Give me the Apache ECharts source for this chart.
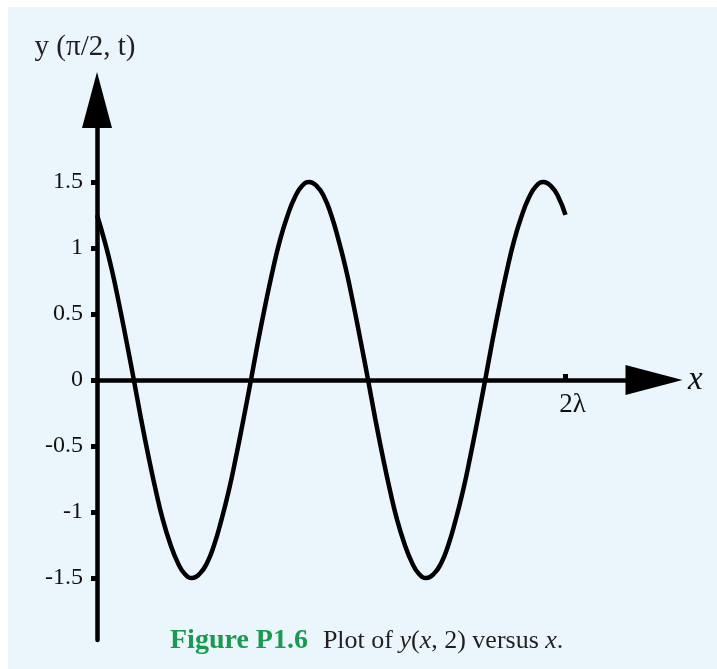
<!DOCTYPE html>
<html>
<head>
<meta charset="utf-8">
<script src="https://cdn.jsdelivr.net/npm/echarts@6/dist/echarts.min.js"></script>
<style>
html,body{margin:0;padding:0;background:#fff;}
#chart_container{width:717px;height:669px;}
</style>
</head>
<body>
<div id="chart_container"></div>
<script>
var xValues = [];
for (var i = 0; i <= 64; i++) { xValues.push(i / 32); }
var yValues = [
  1.25, 1.06, 0.84, 0.58, 0.30, 0.01, -0.29, -0.57, -0.83, -1.06, -1.24, -1.38, -1.47, -1.50, -1.47, -1.39,
  -1.25, -1.06, -0.84, -0.58, -0.30, -0.01, 0.29, 0.57, 0.83, 1.06, 1.24, 1.38, 1.47, 1.50, 1.47, 1.39,
  1.25, 1.06, 0.84, 0.58, 0.30, 0.01, -0.29, -0.57, -0.83, -1.06, -1.24, -1.38, -1.47, -1.50, -1.47, -1.39,
  -1.25, -1.06, -0.84, -0.58, -0.30, -0.01, 0.29, 0.57, 0.83, 1.06, 1.24, 1.38, 1.47, 1.50, 1.47, 1.39,
  1.25
];
var yTicks = [-1.5, -1, -0.5, 0, 0.5, 1, 1.5];
var xTicks = [2];
var xTickLabels = ['2λ'];

var chart = echarts.init(document.getElementById('chart_container'), null, {renderer: 'canvas'});

var points = [];
for (var k = 0; k < xValues.length; k++) { points.push([xValues[k], yValues[k]]); }

var serif = '"Liberation Serif", "DejaVu Serif", serif';

var option = {
  animation: false,
  backgroundColor: '#ffffff',
  graphic: [
    {
      type: 'rect', z: -10, silent: true,
      shape: {x: 8, y: 7, width: 709, height: 662},
      style: {fill: '#EAF6FC'}
    },
    {
      type: 'text', left: 170, top: 627, z: 10,
      style: {
        text: '{g|Figure P1.6}{n|Plot of }{i|y}{n|(}{i|x}{n|, 2) versus }{i|x}{n|.}',
        rich: {
          g: {fontFamily: serif, fontSize: 28, fontWeight: 'bold', fill: '#1A9A50', padding: [0, 15, 0, 0]},
          n: {fontFamily: serif, fontSize: 26, fill: '#231F20'},
          i: {fontFamily: serif, fontSize: 26, fontStyle: 'italic', fill: '#231F20'}
        }
      }
    }
  ],
  grid: {left: 97, right: 63, top: 100, bottom: 29},
  xAxis: {
    type: 'value',
    min: 0,
    max: 2.378,
    name: 'x',
    nameLocation: 'end',
    nameGap: 34,
    nameTextStyle: {fontFamily: serif, fontSize: 33, fontStyle: 'italic', color: '#111', verticalAlign: 'middle', padding: [0, 0, 4, 0]},
    splitLine: {show: false},
    axisLine: {
      onZero: true,
      symbol: ['none', 'triangle'],
      symbolSize: [30, 57],
      lineStyle: {color: '#000', width: 4.5}
    },
    axisTick: {
      customValues: xTicks,
      inside: true,
      length: 6,
      lineStyle: {color: '#000', width: 5}
    },
    axisLabel: {show: false}
  },
  yAxis: {
    type: 'value',
    min: -1.97,
    max: 2.121,
    name: 'y (π/2, t)',
    nameLocation: 'end',
    nameGap: 38,
    nameTextStyle: {fontFamily: serif, fontSize: 29, color: '#231F20', padding: [0, 24, 0, 0]},
    splitLine: {show: false},
    axisLine: {
      symbol: ['none', 'triangle'],
      symbolSize: [30, 56],
      lineStyle: {color: '#000', width: 4.5}
    },
    axisTick: {
      customValues: yTicks,
      length: 6,
      lineStyle: {color: '#000', width: 5}
    },
    axisLabel: {
      customValues: yTicks,
      fontFamily: serif,
      fontSize: 24,
      color: '#111',
      margin: 14
    }
  },
  series: [
    {
      type: 'line',
      data: points,
      smooth: true,
      showSymbol: false,
      clip: false,
      lineStyle: {color: '#000', width: 4.5}
    }
  ]
};
chart.setOption(option);

// x tick labels sit under the zero line, placed through the axis scale
var tickTexts = [];
for (var j = 0; j < xTicks.length; j++) {
  var p = chart.convertToPixel({xAxisIndex: 0, yAxisIndex: 0}, [xTicks[j], 0]);
  tickTexts.push({
    type: 'text', x: p[0] + 7, y: p[1] + 11, z: 10,
    style: {text: xTickLabels[j], fontFamily: serif, fontSize: 27, fill: '#111', align: 'center', verticalAlign: 'top'}
  });
}
chart.setOption({graphic: option.graphic.concat(tickTexts)});
</script>
</body>
</html>
